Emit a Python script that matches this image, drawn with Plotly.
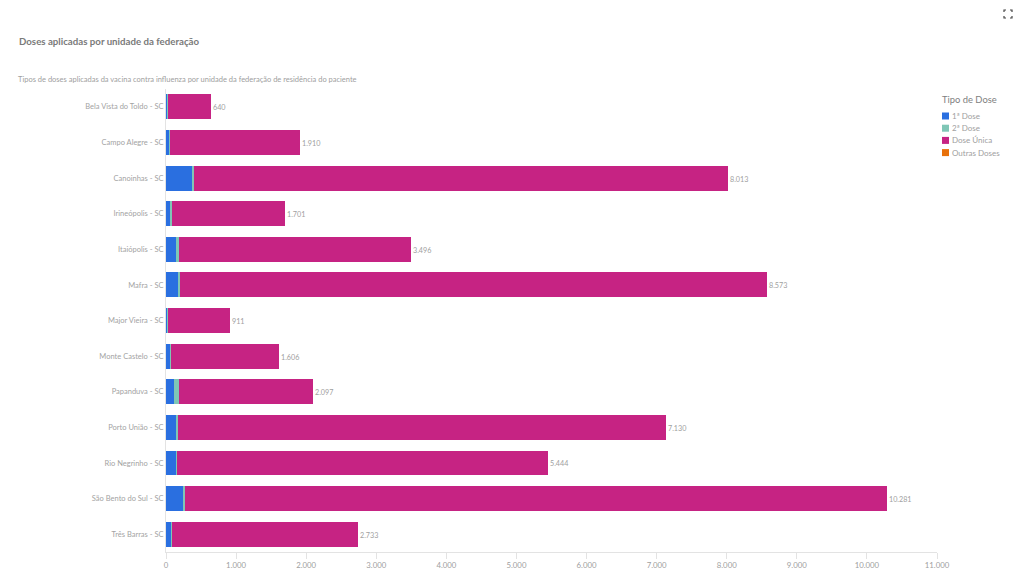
import plotly.graph_objects as go

categories = ["Bela Vista do Toldo - SC", "Campo Alegre - SC", "Canoinhas - SC", "Irineópolis - SC",
              "Itaiópolis - SC", "Mafra - SC", "Major Vieira - SC", "Monte Castelo - SC",
              "Papanduva - SC", "Porto União - SC", "Rio Negrinho - SC", "São Bento do Sul - SC",
              "Três Barras - SC"]
dose_1 = [25, 50, 370, 70, 140, 185, 20, 60, 115, 148, 150, 238, 76]
dose_2 = [6, 8, 30, 10, 45, 20, 8, 15, 70, 25, 8, 30, 10]
totals = [640, 1910, 8013, 1701, 3496, 8573, 911, 1606, 2097, 7130, 5444, 10281, 2733]
outras = [0, 0, 0, 0, 0, 0, 0, 0, 0, 0, 0, 0, 0]
dose_unica = [t - a - b - o for t, a, b, o in zip(totals, dose_1, dose_2, outras)]
total_labels = [f"{t:,}".replace(",", ".") for t in totals]
x_ticks = list(range(0, 11001, 1000))
x_tick_labels = [f"{t:,}".replace(",", ".") for t in x_ticks]
series = [("1ª Dose", dose_1, "#2a6fe0"), ("2ª Dose", dose_2, "#7fc6b6"),
          ("Dose Única", dose_unica, "#c62383"), ("Outras Doses", outras, "#e8710a")]

FONT = "Lato"
W, H = 1024, 576

fig = go.Figure()
for name, vals, col in series:
    fig.add_trace(go.Bar(y=categories, x=vals, name=name, orientation="h", marker_color=col,
                         marker_line_width=0, hoverinfo="x+name", showlegend=False))

annotations = [
    dict(text="<b>Doses aplicadas por unidade da federação</b>", x=19 / W, y=1 - 41 / H, xref="paper",
         yref="paper", xanchor="left", yanchor="middle", showarrow=False, xshift=-2,
         font=dict(size=9.7, color="#7a7a7a", family=FONT)),
    dict(text="Tipos de doses aplicadas da vacina contra influenza por unidade da federação de residência do paciente",
         x=18 / W, y=1 - 79 / H, xref="paper", yref="paper", xanchor="left", yanchor="middle", xshift=-2,
         showarrow=False, font=dict(size=7.5, color="#a0a0a0", family=FONT)),
    dict(text="Tipo de Dose", x=942 / W, y=1 - 99 / H, xref="paper", yref="paper", xanchor="left",
         yanchor="middle", showarrow=False, xshift=-2, font=dict(size=9.4, color="#808080", family=FONT)),
]
for cat, tot, lab in zip(categories, totals, total_labels):
    annotations.append(dict(text=lab, x=tot, y=cat, xref="x", yref="y", xanchor="left", yanchor="middle",
                            showarrow=False, xshift=0, yshift=-1,
                            font=dict(size=7.2, color="#a0a0a0", family=FONT)))

shapes = []
for i, (name, _, col) in enumerate(series):
    yc = 116 + 12.2 * i
    shapes.append(dict(type="rect", xref="paper", yref="paper", x0=942 / W, x1=949 / W,
                       y0=1 - (yc + 3.5) / H, y1=1 - (yc - 3.5) / H, fillcolor=col, line_width=0))
    annotations.append(dict(text=name, x=952 / W, y=1 - yc / H, xref="paper", yref="paper", xanchor="left",
                            yanchor="middle", showarrow=False, xshift=-2,
                            font=dict(size=8, color="#a0a0a0", family=FONT)))

def px(x, y):
    return f"{x / W} {1 - y / H}"
corners = [[(1004, 12), (1004, 10), (1006, 10)], [(1010, 10), (1012, 10), (1012, 12)],
           [(1004, 16), (1004, 18), (1006, 18)], [(1010, 18), (1012, 18), (1012, 16)]]
for c in corners:
    shapes.append(dict(type="path", path="M" + " L".join(px(*p) for p in c), xref="paper", yref="paper",
                       line=dict(color="#444", width=1.2)))

fig.update_layout(
    width=W, height=H, autosize=False, barmode="stack", bargap=0.3, showlegend=False,
    margin=dict(l=0, r=0, t=0, b=0, autoexpand=False), paper_bgcolor="white", plot_bgcolor="white",
    font=dict(family=FONT, color="#a0a0a0", size=8),
    xaxis=dict(domain=[166 / W, 937 / W], range=[0, 11000], tickvals=x_ticks, ticktext=x_tick_labels,
               showgrid=False, zeroline=False, showline=True, linecolor="#e3e3e3", linewidth=1,
               ticks="outside", ticklen=6, tickcolor="#e3e3e3", tickfont=dict(size=7.8, color="#a0a0a0")),
    yaxis=dict(domain=[1 - 552 / H, 1 - 89 / H], range=[12.5, -0.5], showgrid=False, zeroline=False,
               showline=True, linecolor="#e3e3e3", linewidth=1, ticks="",
               tickfont=dict(size=7.5, color="#a3a3a3")),
    annotations=annotations, shapes=shapes,
)

fig.write_html("out.html", config={"displayModeBar": False},
               post_script="document.body.style.margin='0';")
